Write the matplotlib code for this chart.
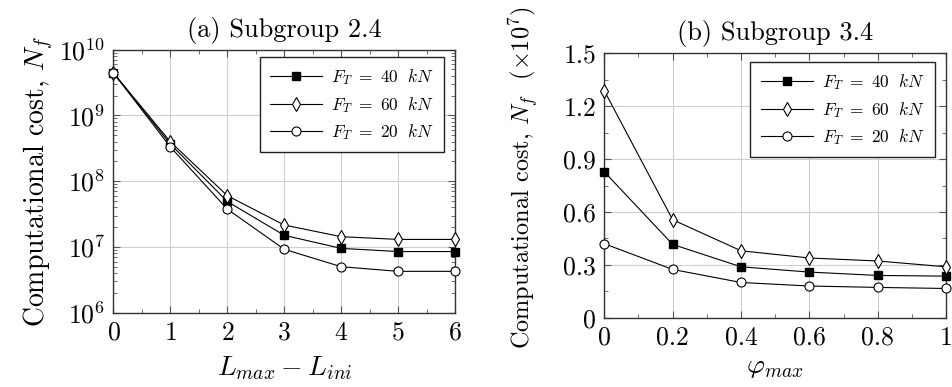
import matplotlib
matplotlib.use("Agg")
import matplotlib.pyplot as plt
from matplotlib.ticker import LogLocator, MultipleLocator, NullFormatter

plt.rcParams['font.family'] = 'serif'
plt.rcParams['font.serif'] = ['cmr10', 'DejaVu Serif']
plt.rcParams['mathtext.fontset'] = 'cm'
plt.rcParams['axes.formatter.use_mathtext'] = True

# ---- data ----
levels = [0, 1, 2, 3, 4, 5, 6]
a_ft40 = [4.4e9, 3.65e8, 4.9e7, 1.5e7, 9.5e6, 8.5e6, 8.5e6]
a_ft60 = [4.4e9, 3.95e8, 6.0e7, 2.15e7, 1.43e7, 1.3e7, 1.3e7]
a_ft20 = [4.4e9, 3.3e8, 3.75e7, 9.2e6, 5.0e6, 4.25e6, 4.25e6]

phi = [0, 0.2, 0.4, 0.6, 0.8, 1.0]
b_ft40 = [0.828, 0.416, 0.289, 0.259, 0.240, 0.236]
b_ft60 = [1.288, 0.556, 0.380, 0.339, 0.322, 0.289]
b_ft20 = [0.420, 0.274, 0.200, 0.180, 0.172, 0.166]

series_labels = [r'$F_T\ =\ 40\ \ kN$', r'$F_T\ =\ 60\ \ kN$', r'$F_T\ =\ 20\ \ kN$']
b_yticks = [0, 0.3, 0.6, 0.9, 1.2, 1.5]
b_yticklabels = ['0', '0.3', '0.6', '0.9', '1.2', '1.5']
b_xticks = [0, 0.2, 0.4, 0.6, 0.8, 1.0]
b_xticklabels = ['0', '0.2', '0.4', '0.6', '0.8', '1']

fig = plt.figure(figsize=(9.52, 3.87), dpi=100)
ax1 = fig.add_axes([0.1192, 0.192, 0.3588, 0.680])
ax2 = fig.add_axes([0.6348, 0.179, 0.3589, 0.683])

styles = [
    dict(marker='s', ms=6, mfc='black', mec='black'),
    dict(marker='d', ms=7.5, mfc='white', mec='black', mew=0.8),
    dict(marker='o', ms=6.5, mfc='white', mec='black', mew=0.8),
]

for ax, xs, ys in [(ax1, levels, [a_ft40, a_ft60, a_ft20]),
                   (ax2, phi, [b_ft40, b_ft60, b_ft20])]:
    for y, st, lab in zip(ys, styles, series_labels):
        ax.plot(xs, y, color='black', lw=0.8, label=lab, clip_on=False, zorder=3, **st)

def style_axes(ax):
    ax.grid(True, which='major', color='#cfcfcf', lw=0.8)
    ax.set_axisbelow(True)
    for s in ax.spines.values():
        s.set_color('#333333')
        s.set_linewidth(1.0)
    ax.tick_params(which='both', direction='in', top=True, right=True,
                   colors='#555555', labelcolor='black', labelsize=18.5, pad=6)
    ax.tick_params(which='major', length=5, width=0.8)
    ax.tick_params(which='minor', length=3, width=0.6)

# left panel
ax1.set_yscale('log')
ax1.set_xlim(0, 6)
ax1.set_ylim(1e6, 1e10)
ax1.set_xticks(levels)
ax1.xaxis.set_minor_locator(MultipleLocator(0.5))
ax1.yaxis.set_major_locator(LogLocator(base=10, numticks=10))
ax1.yaxis.set_minor_locator(LogLocator(base=10, subs=range(2, 10), numticks=20))
ax1.yaxis.set_minor_formatter(NullFormatter())
style_axes(ax1)
ax1.set_title('(a) Subgroup 2.4', fontsize=19, pad=9)
ax1.set_xlabel(r'$L_{max} - L_{ini}$', fontsize=20, labelpad=7)
ax1.set_ylabel(r'Computational cost, $N_f$', fontsize=20, labelpad=2)

# right panel
ax2.set_xlim(0, 1)
ax2.set_ylim(0, 1.5)
ax2.set_xticks(b_xticks)
ax2.set_xticklabels(b_xticklabels)
ax2.set_yticks(b_yticks)
ax2.set_yticklabels(b_yticklabels)
ax2.xaxis.set_minor_locator(MultipleLocator(0.1))
ax2.yaxis.set_minor_locator(MultipleLocator(0.15))
style_axes(ax2)
ax2.set_title('(b) Subgroup 3.4', fontsize=19, pad=10)
ax2.set_xlabel(r'$\varphi_{max}$', fontsize=20, labelpad=3)
ax2.set_ylabel(r'Computational cost, $N_f$  $(\times 10^7)$', fontsize=17.5, labelpad=8)
ax2.yaxis.set_label_coords(-0.185, 0.53)

for ax, anchor in [(ax1, (0.968, 0.9715)), (ax2, (0.968, 0.967))]:
    leg = ax.legend(loc='upper right', bbox_to_anchor=anchor, borderaxespad=0,
                    fancybox=False, framealpha=1, edgecolor='#222222',
                    fontsize=12.5, handlelength=3.0, handletextpad=0.5,
                    labelspacing=0.42, borderpad=0.6)
    leg.get_frame().set_linewidth(1.0)

fig.savefig('out.png', dpi=100)
